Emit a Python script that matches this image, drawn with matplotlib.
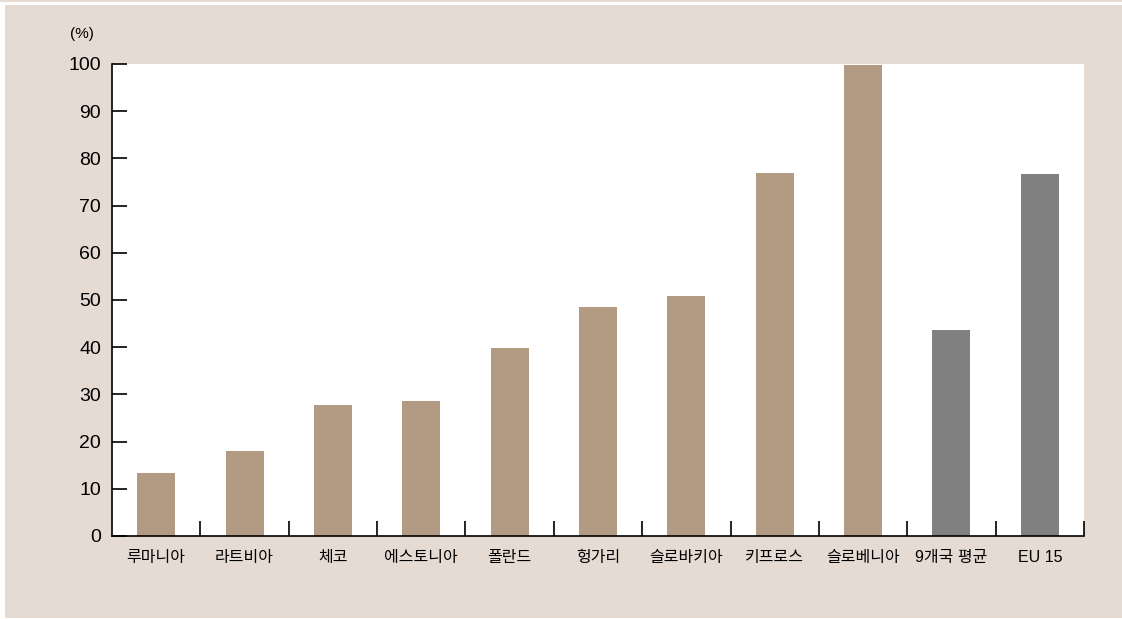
import matplotlib.pyplot as plt
from matplotlib.patches import Rectangle

countries = ['루마니아', '라트비아', '체코', '에스토니아', '폴란드', '헝가리',
             '슬로바키아', '키프로스', '슬로베니아', '9개국 평균', 'EU 15']
values = [13.3, 18.0, 27.8, 28.6, 39.8, 48.5, 50.8, 76.9, 99.8, 43.6, 76.7]
bar_colors = ['#B39B83'] * 9 + ['#808080'] * 2
y_ticks = [0, 10, 20, 30, 40, 50, 60, 70, 80, 90, 100]

plt.rcParams['font.family'] = ['Liberation Sans', 'Noto Sans CJK KR']

W, H = 1122, 619
fig = plt.figure(figsize=(W / 100, H / 100), dpi=100)
fig.patch.set_facecolor('white')

# beige panel behind the chart
fig.patches.append(Rectangle((5 / W, 1 / H), (W - 5) / W, (H - 6) / H,
                             transform=fig.transFigure, facecolor='#E5DBD2',
                             edgecolor='none', zorder=-10))
fig.patches.append(Rectangle((0, (H - 2) / H), 1, 2 / H,
                             transform=fig.transFigure, facecolor='#E5DBD2',
                             edgecolor='none', zorder=-10))

ax = fig.add_axes([112 / W, (H - 536) / H, (1084 - 112) / W, (536 - 64) / H])
ax.set_facecolor('white')

x = range(len(countries))
ax.bar(x, values, width=0.43, color=bar_colors, zorder=2)

ax.set_xlim(-0.5, len(countries) - 0.5)
ax.set_ylim(0, 100)

for s in ['top', 'right']:
    ax.spines[s].set_visible(False)
ax.spines['left'].set_linewidth(1.2)
ax.spines['bottom'].set_linewidth(1.2)

ax.set_yticks(y_ticks)
ax.set_yticklabels([str(v) for v in y_ticks], fontsize=14)
ax.tick_params(axis='y', direction='in', length=11, width=1.2, pad=8)

# category boundary ticks on x axis
ax.set_xticks([i + 0.5 for i in x], minor=False)
ax.set_xticklabels([])
ax.tick_params(axis='x', which='major', direction='in', length=11, width=1.2)
ax.set_xticks(list(x), minor=True)
ax.set_xticklabels(countries, minor=True, fontsize=11.5, fontweight='medium')
ax.tick_params(axis='x', which='minor', length=0, pad=10)

fig.text(82 / W, (H - 34) / H, '(%)', fontsize=11, ha='center', va='center')

fig.savefig('out.png', dpi=100, facecolor=fig.get_facecolor())
